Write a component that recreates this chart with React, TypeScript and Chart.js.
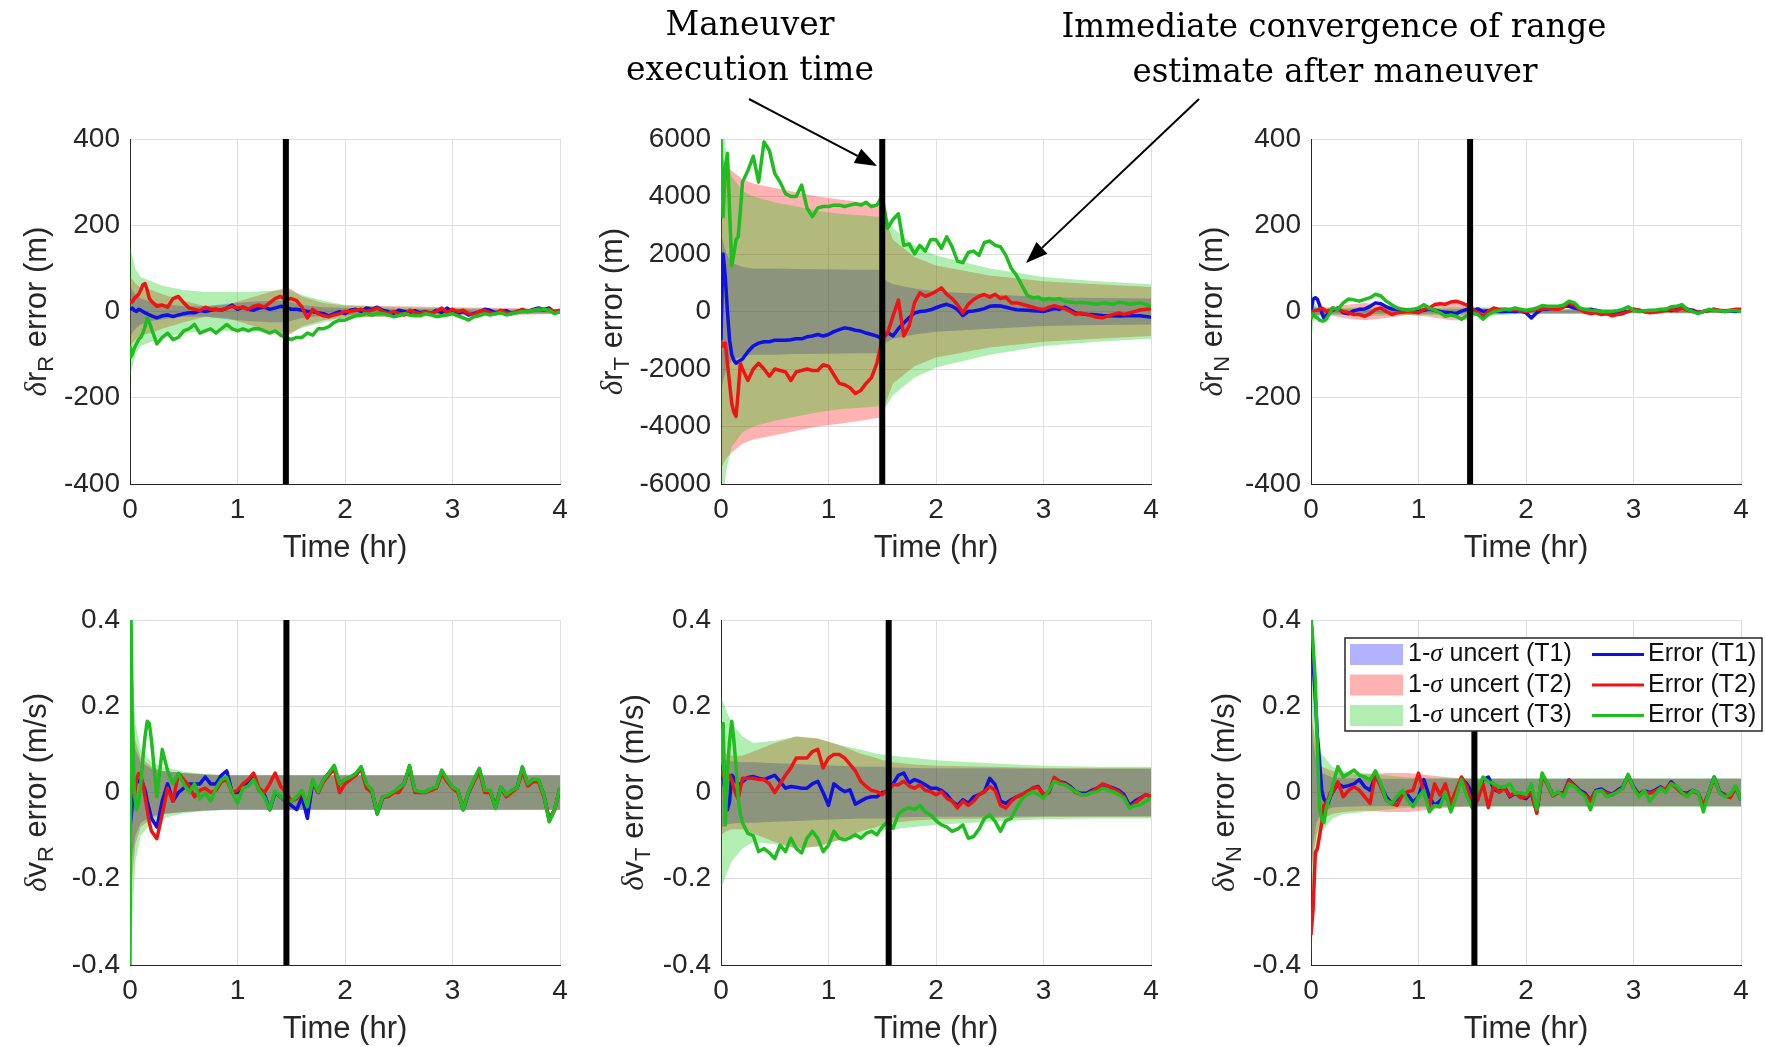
import React, { useEffect, useRef } from "react";
import { Chart, registerables } from "chart.js";
Chart.register(...registerables);

// ---------------- data ----------------
const TIME = [0, 0.01, 0.02, 0.04, 0.06, 0.08, 0.1, 0.12, 0.14, 0.16, 0.18,
  0.2, 0.25, 0.3, 0.35, 0.4, 0.45, 0.5, 0.55, 0.6, 0.65,
  0.7, 0.75, 0.8, 0.85, 0.9, 0.95, 1.0, 1.05, 1.1, 1.15,
  1.2, 1.25, 1.3, 1.35, 1.4, 1.45, 1.5, 1.55, 1.6, 1.65,
  1.7, 1.75, 1.8, 1.85, 1.9, 1.95, 2.0, 2.05, 2.1, 2.15,
  2.2, 2.25, 2.3, 2.35, 2.4, 2.45, 2.5, 2.55, 2.6, 2.65,
  2.7, 2.75, 2.8, 2.85, 2.9, 2.95, 3.0, 3.05, 3.1, 3.15,
  3.2, 3.25, 3.3, 3.35, 3.4, 3.45, 3.5, 3.55, 3.6, 3.65,
  3.7, 3.75, 3.8, 3.85, 3.9, 3.95, 4.0];

const SIG_TIME = [0, 0.02, 0.05, 0.1, 0.2, 0.3, 0.5, 0.7, 0.9, 1.1, 1.3, 1.45, 1.5, 1.52, 1.6, 1.8, 2.0, 2.5, 3.0, 3.5, 4.0];

const MANEUVER_T = [1.45, 1.5, 1.48, 1.455, 1.56, 1.52];
const MANEUVER_TOP = [400, 6000, 400, 0.4, 0.4, 0.3];
const X_TICKS = [0, 1, 2, 3, 4];

// δr_R (m)
const RR_T1 = [5, 6, 8, 3, 0, 5, 3, 0, -3, -5, -8,
  -10, -15, -10, -8, -12, -8, -5, -3, -3, 2,
  0, 3, 5, 3, 8, 15, 5, 10, 5, 3,
  8, 10, 5, 8, 12, 10, 5, 5, 3, 0,
  0, -3, -5, -10, -5, 0, -5, 3, 5, 0,
  8, 5, 10, 3, 0, -5, 3, 0, -3, 2,
  -3, 0, -5, 3, -3, 8, -2, -5, 0, -8,
  -5, 0, 5, 3, -3, 0, 2, -5, 0, 3,
  0, 5, 8, 5, 8, -3, 3];
const RR_T2 = [25, 22, 22, 30, 35, 40, 50, 62, 65, 50, 30,
  24, 12, 15, 10, 30, 35, 20, 8, 5, 2,
  10, 5, 5, 3, 8, 12, 8, 10, 5, 12,
  15, 10, 20, 30, 35, 28, 30, 25, 10, -15,
  5, -5, -10, -12, -8, -5, 0, 0, 3, 5,
  0, 3, 8, 0, -5, 0, -5, -8, 3, -2,
  -5, 0, -5, 0, 8, -3, 5, 0, 3, -5,
  -8, 0, 3, -3, -5, 3, -3, -5, 0, 5,
  0, 3, 5, 3, 5, 0, 3];
const RR_T3 = [-80, -105, -100, -85, -75, -65, -60, -50, -35, -15, -25,
  -40, -75, -60, -50, -65, -60, -45, -40, -30, -50,
  -45, -40, -50, -40, -30, -40, -45, -40, -45, -40,
  -40, -45, -50, -45, -55, -60, -65, -60, -60, -50,
  -55, -40, -40, -35, -25, -20, -20, -15, -10, -8,
  -5, -8, -5, -5, -8, -12, -10, -5, -8, -10,
  -10, -5, -8, -12, -10, -8, -5, -10, -15, -20,
  -12, -10, -5, -8, -5, -3, -8, -5, -3, 0,
  0, 3, 5, 5, 3, -5, 0];
const RR_SIG_T1 = [60, 50, 40, 30, 22, 18, 12, 12, 18, 22, 25, 25, 22, 20, 15, 10, 8, 6, 5, 4, 4];
const RR_SIG_T2 = [80, 75, 65, 55, 50, 40, 25, 12, 15, 30, 45, 55, 52, 48, 35, 20, 14, 12, 10, 8, 6];
const RR_SIG_T3 = [150, 130, 100, 80, 70, 60, 50, 45, 45, 45, 48, 50, 48, 46, 38, 25, 15, 10, 8, 6, 5];

// δr_T (m)
const RT_T1 = [-1000, 800, 2000, 1200, 0, -1000, -1500, -1700, -1800, -1750, -1700,
  -1650, -1400, -1200, -1100, -1050, -1050, -1000, -1000, -1000, -980,
  -950, -950, -880, -850, -800, -850, -800, -700, -630, -570,
  -600, -650, -680, -750, -800, -850, -950, -730, -850, -600,
  -400, -220, -50, 0, 20, 60, 130, 200, 250, 180,
  70, -140, 0, 20, 50, 100, 180, 200, 190, 150,
  100, 60, 50, 40, 30, 20, 0, 50, 100, 80,
  150, 50, -50, -80, -100, -100, -120, -140, -150, -150,
  -160, -150, -140, -150, -150, -170, -200];
const RT_T2 = [-1070, -1100, -1200, -1100, -1800, -2500, -3200, -3500, -3650, -2800, -1800,
  -2000, -2400, -2000, -1800, -2000, -2250, -2000, -2050, -2100, -2400,
  -2100, -2050, -2000, -2050, -2050, -1850, -1900, -2200, -2500, -2550,
  -2650, -2850, -2750, -2500, -2300, -1800, -950, -750, -160, 400,
  -850, -500, 300, 650, 530, 600, 700, 820, 600, 450,
  240, -50, 250, 420, 530, 590, 500, 600, 450, 500,
  300, 300, 250, 200, 150, 100, 70, 150, 200, 150,
  100, 0, -100, -50, -100, -150, -200, -220, -150, -100,
  -50, -100, -50, 0, 50, 80, 100];
const RT_T3 = [6000, 4500, 3300, 5000, 5500, 3500, 1600, 2000, 2500, 2600, 3500,
  4500, 4900, 5400, 4500, 5900, 5600, 4800, 4500, 4100, 4000,
  4000, 4400, 3600, 3300, 3600, 3650, 3650, 3700, 3700, 3650,
  3700, 3750, 3700, 3800, 3650, 3700, 4000, 2900, 3200, 3400,
  2300, 2350, 2000, 2300, 2100, 2500, 2500, 2200, 2600, 2250,
  1750, 1700, 2050, 2100, 1950, 2400, 2450, 2300, 2250, 1950,
  1500, 1250, 900, 550, 480, 500, 400, 450, 420, 450,
  360, 330, 300, 320, 300, 280, 250, 300, 280, 250,
  330, 300, 250, 280, 300, 250, 180];
const RT_SIG_T1 = [2800, 2400, 2000, 1700, 1550, 1500, 1500, 1480, 1470, 1460, 1450, 1450, 1450, 1100, 950, 800, 700, 600, 500, 470, 450];
const RT_SIG_T2 = [5500, 5300, 5100, 4900, 4600, 4450, 4300, 4150, 4000, 3900, 3800, 3700, 3700, 3300, 2500, 1900, 1600, 1250, 1050, 950, 850];
const RT_SIG_T3 = [7000, 6500, 5500, 4700, 4200, 4000, 3800, 3650, 3500, 3400, 3350, 3300, 3300, 3400, 2900, 2300, 1950, 1500, 1200, 1050, 950];

// δr_N (m)
const RN_T1 = [0, 15, 28, 32, 28, 15, -3, -15, -10, -5, 0,
  3, 8, -3, -5, 2, 5, 6, 12, 20, 18,
  11, 6, 5, 3, 3, 2, 0, 3, 6, 3,
  0, -2, -3, -5, 1, 5, 0, 6, 0, 2,
  2, 0, 0, 1, 0, 2, -3, -15, -3, 5,
  6, 8, 10, 12, 12, 8, 5, 4, 5, 3,
  0, -2, -4, -3, 0, 0, 5, 3, 0, -2,
  0, 3, 5, 2, 5, 10, 5, 3, -2, 0,
  3, 5, 2, 0, 2, 0, 3];
const RN_T2 = [0, 0, 0, 2, 3, 5, 8, 5, 0, 2, 3,
  8, 5, 0, -3, -7, -7, -11, -5, 5, 8,
  0, -7, -3, -2, 0, -1, -3, 5, 8, 16,
  18, 17, 22, 24, 20, 15, 5, -3, -11, 0,
  8, 5, 5, 3, 5, 2, 0, 3, 5, 6,
  8, 6, 5, 10, 20, 15, 5, -2, -5, -3,
  -7, -5, -10, -7, -5, 0, 5, 3, 0, -3,
  -2, 0, 3, 5, 2, 8, 3, 0, -3, 0,
  2, 5, 3, 2, 3, 5, 5];
const RN_T3 = [-18, -10, -5, -12, -15, -20, -22, -22, -18, -10, -2,
  8, 5, 20, 29, 27, 24, 28, 32, 40, 36,
  24, 16, 8, 5, 3, 5, 8, 16, 8, 3,
  -3, -11, -8, -11, -18, -10, -3, -7, -18, -7,
  0, 2, 5, 5, 8, 5, 3, 5, 8, 14,
  12, 12, 12, 15, 24, 20, 8, 5, 3, 2,
  0, 0, 0, 2, 5, 11, 3, 0, 2, 3,
  3, 5, 5, 11, 12, 16, 5, 0, -5, 0,
  5, 3, 2, 0, 3, 2, 0];
const RN_SIG_T1 = [15, 10, 8, 6, 5, 5, 5, 5, 5, 5, 5, 5, 5, 5, 5, 4, 4, 4, 3, 3, 3];
const RN_SIG_T2 = [20, 15, 10, 8, 10, 15, 20, 15, 8, 12, 20, 20, 15, 10, 8, 6, 5, 5, 4, 4, 4];
const RN_SIG_T3 = [80, 25, 15, 10, 8, 8, 10, 10, 8, 8, 10, 10, 10, 10, 10, 8, 6, 5, 4, 4, 3];

// δv_R (m/s)
const VR_T1 = [-0.08, -0.06, -0.03, 0.02, 0.03, 0.025, 0.03, 0.02, 0.005, -0.02, -0.04,
  -0.06, -0.08, -0.02, 0.02, -0.02, 0.0, 0.01, 0.02, 0.02, 0.02,
  0.036, 0.02, 0.02, 0.04, 0.05, 0.0, 0.0, 0.015, 0.025, 0.04,
  0.005, -0.005, -0.04, 0.0, -0.01, -0.02, -0.03, -0.04, -0.01, -0.06,
  0.025, 0.0, 0.03, 0.045, 0.06, 0.02, 0.03, 0.035, 0.04, 0.058,
  0.018, 0.004, -0.05, -0.012, -0.008, 0.0, 0.01, 0.02, 0.06, 0.004,
  0.0, 0.002, 0.008, 0.012, 0.05, 0.028, 0.012, 0.004, -0.04, 0.0,
  0.028, 0.054, 0.004, 0.004, -0.035, 0.012, -0.006, 0.004, 0.01, 0.058,
  0.018, 0.03, 0.028, -0.006, -0.066, -0.04, 0.012];
const VR_T2 = [0.23, 0.15, 0.05, -0.01, 0.03, 0.044, 0.04, 0.02, -0.01, -0.04, -0.07,
  -0.09, -0.107, -0.05, 0.01, -0.02, 0.044, 0.03, 0.015, -0.01, 0.005,
  0.01, 0.0, 0.005, 0.025, 0.03, 0.0, 0.005, 0.02, 0.03, 0.045,
  0.01, 0.0, 0.02, 0.045, 0.015, 0.0, -0.02, -0.015, 0.0, -0.03,
  0.025, 0.0, 0.025, 0.04, 0.055, 0.0, 0.02, 0.03, 0.04, 0.055,
  0.01, 0.0, -0.045, -0.01, -0.01, 0.0, 0.0, 0.02, 0.06, 0.0,
  0.0, 0.0, 0.005, 0.01, 0.045, 0.025, 0.01, 0.0, -0.035, 0.0,
  0.025, 0.05, 0.0, 0.0, -0.03, 0.01, -0.01, 0.0, 0.01, 0.05,
  0.015, 0.025, 0.025, -0.01, -0.06, -0.04, 0.01];
const VR_T3 = [-0.4, 0.4, 0.19, 0.0, -0.04, -0.025, 0.02, 0.08, 0.13, 0.165, 0.16,
  0.12, -0.01, 0.1, 0.05, 0.02, 0.044, 0.02, 0.0, 0.02, -0.015,
  0.0, -0.02, 0.01, 0.03, 0.035, 0.0, -0.025, 0.01, 0.015, 0.03,
  0.005, -0.01, -0.04, 0.003, -0.01, -0.018, -0.02, -0.01, 0.005, -0.033,
  0.03, 0.002, 0.03, 0.045, 0.063, 0.02, 0.03, 0.036, 0.044, 0.06,
  0.02, 0.005, -0.049, -0.01, -0.006, 0.002, 0.01, 0.02, 0.063, 0.005,
  0.002, 0.002, 0.009, 0.013, 0.052, 0.03, 0.013, 0.005, -0.04, 0.002,
  0.03, 0.056, 0.005, 0.005, -0.037, 0.013, -0.006, 0.005, 0.01, 0.06,
  0.02, 0.03, 0.03, -0.006, -0.068, -0.04, 0.013];
const VR_SIG_T1 = [0.2, 0.15, 0.1, 0.07, 0.055, 0.05, 0.045, 0.042, 0.04, 0.04, 0.04, 0.04, 0.04, 0.04, 0.04, 0.04, 0.04, 0.04, 0.04, 0.04, 0.04];
const VR_SIG_T2 = [0.3, 0.2, 0.12, 0.08, 0.06, 0.05, 0.045, 0.042, 0.04, 0.04, 0.04, 0.04, 0.04, 0.04, 0.04, 0.04, 0.04, 0.04, 0.04, 0.04, 0.04];
const VR_SIG_T3 = [0.4, 0.3, 0.16, 0.1, 0.07, 0.06, 0.048, 0.043, 0.04, 0.04, 0.04, 0.04, 0.04, 0.04, 0.04, 0.04, 0.04, 0.04, 0.04, 0.04, 0.04];

// δv_T (m/s)
const VT_T1 = [0.03, 0.04, 0.035, 0.0, -0.04, -0.02, 0.04, 0.035, 0.025, 0.02, 0.02,
  0.025, 0.035, 0.037, 0.033, 0.03, 0.035, 0.04, 0.025, 0.01, 0.014,
  0.012, 0.01, 0.01, 0.02, 0.026, 0.0, -0.03, 0.02, 0.01, 0.002,
  0.006, -0.027, -0.02, -0.013, -0.01, -0.01, 0.0, 0.002, 0.02, 0.04,
  0.045, 0.022, 0.03, 0.025, 0.018, 0.01, 0.01, 0.005, -0.005, -0.02,
  -0.03, -0.017, -0.025, -0.01, -0.005, 0.002, 0.033, 0.018, -0.02, -0.025,
  -0.017, -0.01, -0.005, 0.002, 0.01, 0.014, -0.005, 0.0, 0.033, 0.025,
  0.022, 0.014, 0.002, -0.002, -0.002, 0.005, 0.01, 0.018, 0.015, 0.01,
  0.005, -0.005, -0.03, -0.02, -0.013, -0.005, -0.01];
const VT_T2 = [0.05, 0.045, 0.04, 0.03, 0.035, 0.04, 0.03, 0.01, -0.005, -0.015, 0.01,
  0.033, 0.033, 0.033, 0.03, 0.03, 0.02, 0.0, 0.02, 0.04, 0.057,
  0.08, 0.08, 0.08, 0.095, 0.1, 0.057, 0.08, 0.088, 0.088, 0.08,
  0.065, 0.05, 0.026, 0.014, 0.005, 0.002, -0.005, 0.006, 0.018, 0.018,
  0.026, 0.015, 0.01, 0.018, 0.005, 0.002, -0.005, 0.002, -0.013, -0.02,
  -0.036, -0.02, -0.03, -0.02, -0.005, 0.002, 0.014, 0.005, -0.03, -0.036,
  -0.02, -0.01, -0.005, 0.002, 0.01, 0.012, -0.005, 0.0, 0.035, 0.025,
  0.02, 0.012, 0.0, -0.005, -0.005, 0.002, 0.01, 0.02, 0.015, 0.008,
  0.002, -0.01, -0.035, -0.025, -0.015, -0.005, -0.008];
const VT_T3 = [0.065, 0.12, 0.16, -0.075, 0.05, 0.12, 0.165, 0.12, 0.06, -0.013, -0.05,
  -0.07, -0.095, -0.1, -0.137, -0.13, -0.14, -0.153, -0.122, -0.137, -0.106,
  -0.13, -0.14, -0.106, -0.09, -0.106, -0.137, -0.122, -0.09, -0.106, -0.11,
  -0.105, -0.098, -0.106, -0.095, -0.09, -0.098, -0.08, -0.067, -0.083, -0.05,
  -0.04, -0.035, -0.04, -0.03, -0.045, -0.052, -0.065, -0.075, -0.08, -0.09,
  -0.085, -0.075, -0.106, -0.102, -0.085, -0.06, -0.052, -0.067, -0.09, -0.065,
  -0.06, -0.035, -0.015, -0.005, 0.002, -0.005, -0.013, 0.005, 0.026, 0.02,
  0.018, 0.01, 0.002, -0.005, -0.005, 0.0, 0.002, 0.01, 0.005, 0.002,
  -0.005, -0.013, -0.036, -0.03, -0.029, -0.02, -0.013];
const VT_SIG_T1 = [0.08, 0.08, 0.075, 0.072, 0.07, 0.07, 0.068, 0.066, 0.064, 0.062, 0.06, 0.06, 0.06, 0.06, 0.058, 0.057, 0.056, 0.056, 0.055, 0.055, 0.055];
const VT_SIG_T2 = [0.1, 0.095, 0.09, 0.085, 0.085, 0.095, 0.115, 0.13, 0.125, 0.11, 0.09, 0.08, 0.075, 0.075, 0.07, 0.065, 0.062, 0.06, 0.057, 0.056, 0.056];
const VT_SIG_T3 = [0.22, 0.21, 0.19, 0.16, 0.13, 0.115, 0.12, 0.13, 0.125, 0.11, 0.1, 0.09, 0.088, 0.088, 0.085, 0.08, 0.075, 0.068, 0.062, 0.06, 0.06];

// δv_N (m/s)
const VN_T1 = [0.4, 0.36, 0.3, 0.22, 0.13, 0.07, 0.005, -0.015, -0.022, -0.025, -0.01,
  0.0, 0.02, 0.013, 0.016, 0.02, 0.03, 0.013, 0.005, 0.04, 0.015,
  -0.01, -0.025, -0.015, 0.002, -0.006, -0.022, -0.01, 0.03, -0.01, -0.03,
  -0.02, -0.005, -0.033, 0.0, 0.033, 0.02, -0.002, -0.01, 0.03, 0.036,
  0.008, 0.002, 0.013, -0.01, -0.002, -0.01, -0.014, 0.0, -0.045, 0.04,
  0.02, -0.006, 0.0, -0.002, 0.029, 0.017, 0.005, -0.002, -0.018, 0.005,
  0.008, 0.0, -0.004, 0.005, 0.013, 0.04, 0.013, -0.004, 0.004, 0.0,
  0.005, 0.013, 0.005, 0.025, 0.013, 0.0, -0.002, 0.005, 0.0, -0.033,
  0.0, 0.036, 0.002, -0.006, -0.01, 0.013, -0.018];
const VN_T2 = [-0.33, -0.3, -0.27, -0.14, -0.13, -0.1, -0.07, -0.03, -0.025, -0.015, 0.0,
  0.0, 0.025, -0.01, 0.005, 0.013, 0.005, -0.01, -0.025, 0.044, 0.013,
  -0.018, -0.025, -0.03, -0.006, 0.002, 0.005, 0.045, 0.0, -0.033, 0.02,
  -0.006, 0.02, -0.025, 0.005, 0.036, 0.013, -0.033, -0.018, 0.02, -0.035,
  0.015, 0.0, 0.01, -0.008, 0.0, -0.012, -0.01, 0.0, -0.048, 0.04,
  0.018, -0.008, 0.0, -0.005, 0.027, 0.015, 0.003, -0.005, -0.02, 0.003,
  0.005, -0.002, -0.006, 0.003, 0.01, 0.038, 0.01, -0.006, 0.002, -0.002,
  0.003, 0.01, 0.008, 0.022, 0.01, -0.002, -0.004, 0.003, -0.002, -0.03,
  -0.002, 0.033, 0.0, -0.008, -0.012, 0.01, -0.015];
const VN_T3 = [0.4, 0.38, 0.34, 0.26, 0.1, -0.04, -0.06, -0.07, -0.04, -0.02, -0.008,
  0.015, 0.06, 0.036, 0.044, 0.052, 0.04, 0.036, 0.029, 0.05, 0.02,
  -0.018, -0.025, -0.01, 0.005, -0.018, -0.033, -0.01, 0.005, -0.045, -0.03,
  -0.033, 0.0, -0.045, -0.01, 0.03, -0.01, -0.035, 0.005, 0.036, 0.025,
  0.02, 0.013, 0.013, 0.02, -0.002, 0.0, -0.005, 0.02, -0.04, 0.045,
  0.02, -0.006, 0.002, -0.01, 0.02, 0.013, 0.002, -0.01, -0.04, 0.002,
  0.005, -0.01, -0.005, 0.0, 0.01, 0.042, 0.01, -0.01, 0.005, -0.02,
  -0.005, 0.01, 0.0, 0.02, 0.015, 0.0, -0.01, 0.005, 0.0, -0.045,
  0.0, 0.036, 0.0, -0.01, -0.005, 0.015, -0.018];
const VN_SIG_T1 = [0.2, 0.12, 0.07, 0.045, 0.035, 0.033, 0.032, 0.032, 0.032, 0.032, 0.032, 0.032, 0.032, 0.032, 0.032, 0.032, 0.032, 0.032, 0.032, 0.032, 0.032];
const VN_SIG_T2 = [0.2, 0.15, 0.1, 0.06, 0.05, 0.045, 0.042, 0.045, 0.045, 0.04, 0.035, 0.033, 0.032, 0.032, 0.032, 0.032, 0.032, 0.032, 0.032, 0.032, 0.032];
const VN_SIG_T3 = [0.4, 0.3, 0.16, 0.09, 0.06, 0.05, 0.045, 0.04, 0.035, 0.034, 0.033, 0.033, 0.033, 0.033, 0.033, 0.033, 0.033, 0.033, 0.033, 0.033, 0.033];

const BAND_LABELS = ["uncert (T1)", "uncert (T2)", "uncert (T3)"];
const ERROR_LABELS = ["Error (T1)", "Error (T2)", "Error (T3)"];
const NOTE_LEFT = ["Maneuver", "execution time"];
const NOTE_RIGHT = ["Immediate convergence of range", "estimate after maneuver"];

// ---------------- styling ----------------
const SANS = '"Liberation Sans", Arial, Helvetica, sans-serif';
const SERIF = '"Liberation Serif", "Times New Roman", serif';
const TEXT = "#262626";
const GRID = "#dedede";
const LINE_COLORS = ["#1010e0", "#ee1414", "#1fbd1f"];
const FILL_COLORS = ["rgba(0,0,255,0.3)", "rgba(255,0,0,0.3)", "rgba(0,200,0,0.3)"];

const PLOT_W = 430;
const PLOT_H = 345;
const COL_X = [130, 721, 1311];
const ROW_Y = [139, 620];
const PAD_L = 130;
const PAD_T = 32;
const PAD_B = 82;

type PanelDef = {
  col: number; row: number;
  err: number[][]; sig: number[][];
  ymin: number; ymax: number; step: number;
  sym: string; sub: string; unit: string;
  tm: number; tmTop: number; titleOff: number; legend?: boolean;
};

const PANELS: PanelDef[] = [
  { col: 0, row: 0, err: [RR_T1, RR_T2, RR_T3], sig: [RR_SIG_T1, RR_SIG_T2, RR_SIG_T3], ymin: -400, ymax: 400, step: 200, sym: "r", sub: "R", unit: "(m)", tm: MANEUVER_T[0], tmTop: MANEUVER_TOP[0], titleOff: 95 },
  { col: 1, row: 0, err: [RT_T1, RT_T2, RT_T3], sig: [RT_SIG_T1, RT_SIG_T2, RT_SIG_T3], ymin: -6000, ymax: 6000, step: 2000, sym: "r", sub: "T", unit: "(m)", tm: MANEUVER_T[1], tmTop: MANEUVER_TOP[1], titleOff: 110 },
  { col: 2, row: 0, err: [RN_T1, RN_T2, RN_T3], sig: [RN_SIG_T1, RN_SIG_T2, RN_SIG_T3], ymin: -400, ymax: 400, step: 200, sym: "r", sub: "N", unit: "(m)", tm: MANEUVER_T[2], tmTop: MANEUVER_TOP[2], titleOff: 100 },
  { col: 0, row: 1, err: [VR_T1, VR_T2, VR_T3], sig: [VR_SIG_T1, VR_SIG_T2, VR_SIG_T3], ymin: -0.4, ymax: 0.4, step: 0.2, sym: "v", sub: "R", unit: "(m/s)", tm: MANEUVER_T[3], tmTop: MANEUVER_TOP[3], titleOff: 95 },
  { col: 1, row: 1, err: [VT_T1, VT_T2, VT_T3], sig: [VT_SIG_T1, VT_SIG_T2, VT_SIG_T3], ymin: -0.4, ymax: 0.4, step: 0.2, sym: "v", sub: "T", unit: "(m/s)", tm: MANEUVER_T[4], tmTop: MANEUVER_TOP[4], titleOff: 89 },
  { col: 2, row: 1, err: [VN_T1, VN_T2, VN_T3], sig: [VN_SIG_T1, VN_SIG_T2, VN_SIG_T3], ymin: -0.4, ymax: 0.4, step: 0.2, sym: "v", sub: "N", unit: "(m/s)", tm: MANEUVER_T[5], tmTop: MANEUVER_TOP[5], titleOff: 88, legend: true },
];

function padRight(p: PanelDef) {
  return p.col === 2 ? 1765 - (COL_X[2] + PLOT_W) : 25;
}

function drawYTitle(ctx: CanvasRenderingContext2D, area: any, p: PanelDef) {
  const fMain = `31px ${SANS}`;
  const fDelta = `italic 31px ${SERIF}`;
  const fSub = `22px ${SANS}`;
  const post = " error " + p.unit;
  ctx.save();
  ctx.fillStyle = TEXT;
  ctx.textAlign = "left";
  ctx.textBaseline = "alphabetic";
  ctx.font = fDelta; const wd = ctx.measureText("δ").width;
  ctx.font = fMain; const wm = ctx.measureText(p.sym).width; const wp = ctx.measureText(post).width;
  ctx.font = fSub; const ws = ctx.measureText(p.sub).width;
  const total = wd + wm + ws + wp;
  ctx.translate(area.left - p.titleOff, (area.top + area.bottom) / 2);
  ctx.rotate(-Math.PI / 2);
  let x = -total / 2;
  const base = 11;
  ctx.font = fDelta; ctx.fillText("δ", x, base); x += wd;
  ctx.font = fMain; ctx.fillText(p.sym, x, base); x += wm;
  ctx.font = fSub; ctx.fillText(p.sub, x, base + 7); x += ws;
  ctx.font = fMain; ctx.fillText(post, x, base);
  ctx.restore();
}

function drawXTitle(ctx: CanvasRenderingContext2D, area: any) {
  ctx.save();
  ctx.fillStyle = TEXT;
  ctx.font = `31px ${SANS}`;
  ctx.textAlign = "center";
  ctx.textBaseline = "middle";
  ctx.fillText("Time (hr)", (area.left + area.right) / 2, area.bottom + 64);
  ctx.restore();
}

function drawLegend(ctx: CanvasRenderingContext2D, area: any) {
  // legend box placed relative to the plot area's top-left corner
  const bx = area.left + 34, by = area.top + 18, bw = 417, bh = 93;
  ctx.save();
  ctx.fillStyle = "#ffffff";
  ctx.fillRect(bx, by, bw, bh);
  ctx.strokeStyle = "#262626";
  ctx.lineWidth = 1.5;
  ctx.strokeRect(bx, by, bw, bh);
  for (let i = 0; i < 3; i++) {
    const cy = by + 16.5 + i * 30.5;
    ctx.fillStyle = FILL_COLORS[i];
    ctx.fillRect(bx + 5, cy - 10.5, 53, 21);
    ctx.fillStyle = "#111";
    ctx.textBaseline = "middle";
    ctx.textAlign = "left";
    let x = bx + 63;
    ctx.font = `25px ${SANS}`;
    ctx.fillText("1-", x, cy); x += ctx.measureText("1-").width;
    ctx.font = `italic 25px ${SERIF}`;
    ctx.fillText("σ", x, cy); x += ctx.measureText("σ").width;
    ctx.font = `25px ${SANS}`;
    ctx.fillText(" " + BAND_LABELS[i], x, cy);
    ctx.strokeStyle = LINE_COLORS[i];
    ctx.lineWidth = 3;
    ctx.beginPath();
    ctx.moveTo(bx + 247, cy); ctx.lineTo(bx + 299, cy);
    ctx.stroke();
    ctx.fillText(ERROR_LABELS[i], bx + 303, cy);
  }
  ctx.restore();
}

function makeConfig(p: PanelDef): any {
  const xy = (ts: number[], vs: number[]) => ts.map((t, i) => ({ x: t, y: vs[i] }));
  const datasets: any[] = [];
  // maneuver time marker (drawn on top)
  datasets.push({
    data: [{ x: p.tm, y: p.ymin }, { x: p.tm, y: p.tmTop }],
    borderColor: "#000", borderWidth: 6, pointRadius: 0, fill: false,
  });
  // error lines: T3 above T2 above T1
  for (let k = 2; k >= 0; k--) {
    datasets.push({
      data: xy(TIME, p.err[k]), borderColor: LINE_COLORS[k], borderWidth: 3.5,
      pointRadius: 0, fill: false, tension: 0, borderJoinStyle: "round",
    });
  }
  // sigma bands: T3 first so that its fill is painted last
  for (let k = 2; k >= 0; k--) {
    datasets.push({
      data: xy(SIG_TIME, p.sig[k]), borderColor: "rgba(0,0,0,0)", borderWidth: 1,
      pointRadius: 0, fill: "+1", backgroundColor: FILL_COLORS[k], tension: 0,
    });
    datasets.push({
      data: xy(SIG_TIME, p.sig[k].map((v) => -v)), borderColor: "rgba(0,0,0,0)", borderWidth: 1,
      pointRadius: 0, fill: false, tension: 0,
    });
  }
  const fmt = (v: any) => String(Math.round(Number(v) * 1000) / 1000);
  const plugin = {
    id: "panelText" + p.col + p.row,
    afterDraw(chart: any) {
      const ctx = chart.ctx;
      drawYTitle(ctx, chart.chartArea, p);
      drawXTitle(ctx, chart.chartArea);
      if (p.legend) drawLegend(ctx, chart.chartArea);
    },
  };
  return {
    type: "line",
    data: { datasets },
    plugins: [plugin],
    options: {
      responsive: false,
      animation: false,
      events: [],
      layout: { padding: { left: 0, top: PAD_T, right: padRight(p), bottom: 0 } },
      plugins: {
        legend: { display: false },
        tooltip: { enabled: false },
        filler: { drawTime: "beforeDatasetsDraw" },
      },
      scales: {
        x: {
          type: "linear", min: 0, max: 4,
          afterBuildTicks: (s: any) => { s.ticks = X_TICKS.map((v) => ({ value: v })); },
          ticks: { font: { family: SANS, size: 28 }, color: TEXT, padding: 9, maxRotation: 0, autoSkip: false, callback: fmt },
          grid: { color: GRID, drawTicks: false, lineWidth: 1 },
          border: { display: true, color: TEXT, width: 1 },
          afterFit: (s: any) => { s.height = PAD_B; },
        },
        y: {
          type: "linear", min: p.ymin, max: p.ymax,
          ticks: { stepSize: p.step, font: { family: SANS, size: 28 }, color: TEXT, padding: 10, autoSkip: false, callback: fmt },
          grid: { color: GRID, drawTicks: false, lineWidth: 1 },
          border: { display: true, color: TEXT, width: 1 },
          afterFit: (s: any) => { s.width = PAD_L; },
        },
      },
    },
  };
}

function Panel({ p }: { p: PanelDef }) {
  const ref = useRef<HTMLCanvasElement>(null);
  useEffect(() => {
    const chart = new Chart(ref.current as HTMLCanvasElement, makeConfig(p));
    return () => chart.destroy();
  }, []);
  const w = PAD_L + PLOT_W + padRight(p);
  const h = PAD_T + PLOT_H + PAD_B;
  return (
    <canvas
      ref={ref}
      width={w}
      height={h}
      style={{ position: "absolute", left: COL_X[p.col] - PAD_L, top: ROW_Y[p.row] - PAD_T, width: w, height: h }}
    />
  );
}

function Arrow({ x1, y1, x2, y2 }: { x1: number; y1: number; x2: number; y2: number }) {
  const dx = x2 - x1, dy = y2 - y1;
  const len = Math.hypot(dx, dy);
  const ux = dx / len, uy = dy / len;
  const hl = 22, hw = 8;
  const bx = x2 - ux * hl, by = y2 - uy * hl;
  const pts = `${x2},${y2} ${bx - uy * hw},${by + ux * hw} ${bx + uy * hw},${by - ux * hw}`;
  return (
    <g>
      <line x1={x1} y1={y1} x2={bx} y2={by} stroke="#000" strokeWidth={2} />
      <polygon points={pts} fill="#000" />
    </g>
  );
}

export default function App() {
  const serif = '"DejaVu Serif", serif';
  return (
    <div style={{ position: "absolute", left: 0, top: 0, width: 1765, height: 1047, background: "#fff", overflow: "hidden" }}>
      {PANELS.map((p, i) => (
        <Panel key={i} p={p} />
      ))}
      <svg width={1765} height={1047} style={{ position: "absolute", left: 0, top: 0, pointerEvents: "none" }}>
        <text x={750} y={35} textAnchor="middle" fontFamily={serif} fontSize={33} fill="#000" textLength={169} lengthAdjust="spacingAndGlyphs">{NOTE_LEFT[0]}</text>
        <text x={750} y={80} textAnchor="middle" fontFamily={serif} fontSize={33} fill="#000" textLength={248} lengthAdjust="spacingAndGlyphs">{NOTE_LEFT[1]}</text>
        <text x={1334} y={37} textAnchor="middle" fontFamily={serif} fontSize={33} fill="#000" textLength={545} lengthAdjust="spacingAndGlyphs">{NOTE_RIGHT[0]}</text>
        <text x={1335} y={82} textAnchor="middle" fontFamily={serif} fontSize={33} fill="#000" textLength={405} lengthAdjust="spacingAndGlyphs">{NOTE_RIGHT[1]}</text>
        <Arrow x1={749} y1={99} x2={877} y2={166} />
        <Arrow x1={1199} y1={99} x2={1026} y2={263} />
      </svg>
    </div>
  );
}
